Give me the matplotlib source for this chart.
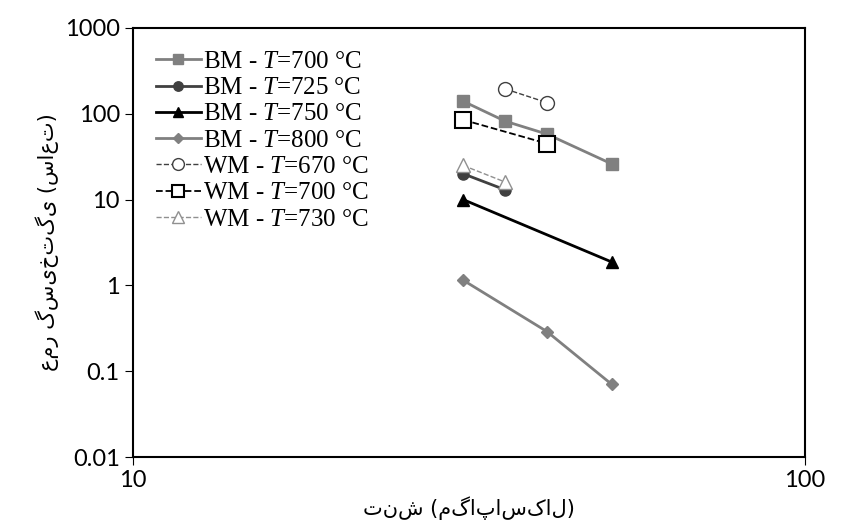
import matplotlib.pyplot as plt

plt.rcParams['font.family'] = ['Liberation Serif', 'DejaVu Sans']
plt.rcParams['mathtext.fontset'] = 'custom'
plt.rcParams['mathtext.it'] = 'Liberation Serif:italic'
plt.rcParams['mathtext.rm'] = 'Liberation Serif'

bm700_x = [31, 35.8, 41.3, 51.6]
bm700_y = [140, 82, 58, 26]
bm725_x = [31, 35.8]
bm725_y = [20, 13]
bm750_x = [31, 51.6]
bm750_y = [10, 1.87]
bm800_x = [31, 41.3, 51.6]
bm800_y = [1.15, 0.29, 0.07]
wm670_x = [35.8, 41.3]
wm670_y = [195, 135]
wm700_x = [31, 41.3]
wm700_y = [85, 45]
wm730_x = [31, 35.8]
wm730_y = [25, 16]

fig = plt.figure(figsize=(8.47, 5.26), dpi=100)
ax = fig.add_axes([133/847, 1-457/526, (805-133)/847, (457-28)/526])

ax.plot(bm700_x, bm700_y, '-s', color='#808080', lw=2, ms=8, label='BM - $T$=700 °C')
ax.plot(bm725_x, bm725_y, '-o', color='#404040', lw=2, ms=8, label='BM - $T$=725 °C')
ax.plot(bm750_x, bm750_y, '-^', color='black', lw=2, ms=8, label='BM - $T$=750 °C')
ax.plot(bm800_x, bm800_y, '-D', color='#808080', lw=2, ms=6.5, label='BM - $T$=800 °C')
ax.plot(wm670_x, wm670_y, '--o', color='#404040', lw=1, ms=10, mfc='white', label='WM - $T$=670 °C')
ax.plot(wm700_x, wm700_y, '--s', color='black', lw=1.3, ms=11, mfc='white', mew=1.5, label='WM - $T$=700 °C')
ax.plot(wm730_x, wm730_y, '--^', color='#909090', lw=1, ms=10, mfc='white', label='WM - $T$=730 °C')

ax.set_xscale('log')
ax.set_yscale('log')
ax.set_xlim(10, 100)
ax.set_ylim(0.01, 1000)
ax.set_xticks([10, 100])
ax.set_xticklabels(['10', '100'])
ax.minorticks_off()
ax.set_yticks([0.01, 0.1, 1, 10, 100, 1000])
ax.set_yticklabels(['0.01', '0.1', '1', '10', '100', '1000'])
ax.tick_params(labelsize=17, length=6)
for lab in ax.get_xticklabels() + ax.get_yticklabels():
    lab.set_family(['Lato', 'DejaVu Sans'])
for s in ax.spines.values():
    s.set_linewidth(1.5)

ax.set_xlabel('تنش (مگاپاسکال)', fontsize=15, family=['DejaVu Sans'])
ax.set_ylabel('عمر گسیختگی (ساعت)', fontsize=15, family=['DejaVu Sans'])

ax.legend(loc='upper left', fontsize=18, frameon=False, handlelength=1.8,
          handletextpad=0.1, labelspacing=0.15, borderaxespad=0.5, markerscale=0.85)

fig.savefig('out.png', dpi=100)
